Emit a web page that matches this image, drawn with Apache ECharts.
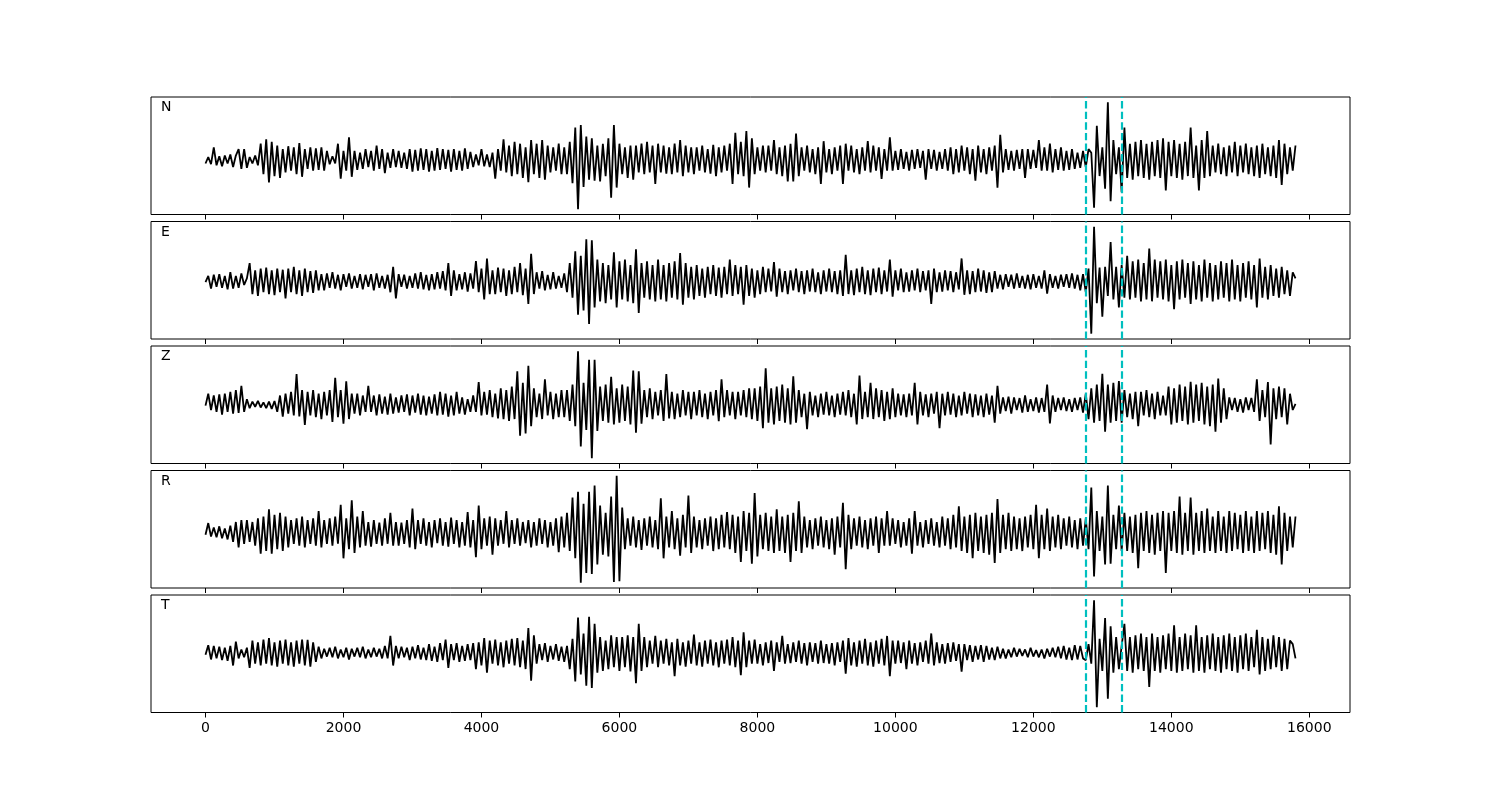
<!DOCTYPE html>
<html>
<head>
<meta charset="utf-8">
<script src="https://cdn.jsdelivr.net/npm/echarts@6/dist/echarts.min.js"></script>
<style>
html,body{margin:0;padding:0;background:#fff;}
#chart{width:1500px;height:800px;}
</style>
</head>
<body>
<div id="chart"></div>
<script>
// ---- data ----
const SAMPLE_STEP = 40;               // time between listed samples
const COMPONENTS = ['N', 'E', 'Z', 'R', 'T'];
const TICK_VALUES = [0, 2000, 4000, 6000, 8000, 10000, 12000, 14000, 16000];
const PICK_TIMES = [12765, 13275];

const N_TRACE = [
-10,8,-12,35,-15,10,-18,12,-10,15,-20,12,30,-25,30,-22,8,-10,12,-15,
45,-40,57,-63,50,-45,40,-50,30,-35,38,-30,35,-40,47,-47,30,-25,35,-30,
32,-28,35,-30,25,-12,10,-10,45,-52,25,-30,63,-47,25,-28,20,-25,30,-20,
25,-30,40,-25,30,-37,20,-22,30,-20,25,-22,20,-25,30,-33,28,-30,32,-28,
30,-33,25,-30,33,-28,30,-25,28,-33,30,-28,25,-30,32,-25,22,-20,15,-15,
30,-18,15,-20,20,-52,30,-30,57,-35,40,-45,50,-40,45,-50,35,-62,55,-40,
45,-50,55,-55,40,-35,35,-30,45,-40,35,-40,50,-65,90,-137,97,-75,65,-55,
60,-58,40,-60,45,-45,60,-105,97,-77,45,-40,35,-50,40,-55,40,-35,45,-40,
50,-35,40,-67,45,-35,40,-38,35,-40,45,-35,55,-45,40,-35,35,-40,35,-30,
40,-35,30,-38,42,-45,35,-35,40,-30,45,-67,75,-40,50,-45,80,-77,60,-40,
35,-30,40,-35,40,-30,55,-40,35,-45,40,-60,45,-60,73,-45,35,-30,40,-35,
30,-40,35,-67,52,-35,30,-40,35,-30,40,-67,45,-30,40,-35,30,-40,35,-30,
52,-35,40,-30,35,-53,30,-30,63,-30,25,-28,30,-25,22,-30,28,-25,30,-22,
25,-55,30,-25,28,-30,22,-25,30,-30,35,-40,30,-35,40,-30,35,-40,30,-58,
40,-35,30,-40,35,-30,40,-77,70,-35,30,-28,25,-30,28,-25,30,-50,30,-25,
28,-22,55,-30,35,-30,45,-35,30,-28,35,-30,25,-28,30,-25,20,-22,25,-20,
30,20,-133,95,-45,35,-80,160,-115,55,-40,35,-90,90,-50,45,-55,50,-45,55,
-50,45,-55,50,-45,55,-50,60,-85,50,-45,55,-50,45,-55,50,-45,90,-50,40,
-85,55,-50,80,-45,40,-35,45,-40,35,-45,40,-35,50,-45,40,-35,45,-40,35,
-45,40,-50,45,-40,35,-45,40,-50,55,-70,45,-40,35,-30,40
];

const E_TRACE = [
-2,15,-20,18,-15,20,-18,15,-22,25,-20,15,-18,22,-10,8,
50,-35,30,-40,35,-30,38,-35,30,-38,35,-30,32,-47,35,-30,40,-35,30,-40,35,-30,28,-32,30,-25,
20,-25,22,-18,25,-20,18,-25,20,-15,22,-20,15,-18,20,-22,18,-15,20,-25,22,-18,15,-20,18,
-30,40,-47,
20,-15,18,-20,15,-18,22,-20,25,-22,18,-25,20,-22,25,-20,28,-25,50,-40,30,-25,20,-22,25,-28,22,-20,
56,-30,35,-50,63,-35,
30,-35,38,-30,35,-40,30,-35,40,-30,50,-38,35,-62,76,-35,
25,-20,28,-25,18,-22,25,-20,15,-18,22,
-30,50,-45,83,-92,70,-80,116,-117,113,-72,60,
-55,50,-60,45,-50,80,-72,55,-50,60,-55,45,-60,88,-87,50,-45,55,-50,45,-55,60,-50,45,-55,50,-45,55,-50,78,-64,50,-45,40,-50,
45,-40,35,-45,40,-35,45,-40,38,-45,40,-35,60,-40,45,-35,40,-64,45,-40,35,-45,
30,-35,40,-30,35,-28,53,-42,35,-30,28,-35,30,-25,35,-30,28,-35,30,-28,35,-30,25,-35,30,-28,35,-30,28,-35,30,-40,
73,-35,30,-38,35,-30,40,-35,30,-38,35,-30,38,-35,30,-28,60,-42,
30,-25,35,-30,25,-28,30,-25,35,-30,28,-25,30,-62,35,-30,25,-28,30,-25,28,-30,25,-22,
63,-37,30,-35,28,-30,35,-28,30,-32,25,-30,28,
-20,18,-22,20,-15,18,-20,22,-18,15,-20,18,-22,20,-18,15,-20,30,-34,20,-18,15,-20,18,-15,20,-18,22,-20,18,-25,20,
-30,35,-144,150,-60,38,-97,40,-40,108,-50,40,-72,45,
-45,70,-50,55,-45,60,-55,50,-50,90,-55,60,-45,55,-50,60,-55,45,-77,55,-50,60,-45,50,-62,55,-50,45,-55,60,-45,50,
-55,45,-50,55,-45,50,-55,60,-50,45,-55,50,-45,55,-50,45,-72,63,-45,40,-50,45,-40,35,-45,40,-35,30,-40,25,8
];

const Z_TRACE = [
-3,30,-15,25,-20,28,-28,30,-20,35,-25,40,-23,52,-20,15,
-10,8,-6,10,-8,6,-10,8,-12,10,
-20,25,-33,30,-25,35,-30,84,-33,40,-56,35,
-30,40,-35,30,-40,35,-30,40,-48,74,-35,40,-53,64,-40,30,-25,
30,-30,25,-20,52,-20,25,-30,28,-25,22,-28,30,-25,20,-22,25,-20,28,-30,25,-22,30,-28,25,-30,22,-25,28,-30,
35,-28,30,-33,25,-30,35,-25,20,-28,15,-20,25,
-20,62,-30,35,-28,40,-35,30,-38,45,-40,
40,-45,50,-40,92,-86,60,-80,107,-60,
45,-35,30,-40,70,-30,35,-40,30,-35,40,-35,
40,-45,55,-60,147,-116,60,-70,124,-148,124,-73,
50,-45,55,-50,77,-55,45,-50,55,-45,50,-55,94,-78,92,-53,40,
-35,45,-40,35,-30,40,-45,84,-38,35,-40,30,-35,40,-30,35,-40,35,
-30,40,-35,30,-40,35,-30,40,-46,70,-35,40,-30,35,-40,35,-30,40,-35,45,-40,45,
-45,50,-65,100,-50,45,-55,50,-45,55,-50,45,-55,78,-50,40,
-35,30,-68,35,-30,25,-35,30,-28,35,-30,25,-35,30,-28,35,-30,40,-35,30,-55,80,
-40,35,-35,60,-40,45,-35,40,-45,35,-40,45,
-35,30,-30,28,-35,30,-30,60,-55,35,-30,28,-35,30,-25,35,-65,30,-30,
35,-28,30,-35,25,-30,35,-25,30,-35,28,-30,25,-35,30,-28,25,-50,52,-25,
20,-18,22,-25,20,-15,18,-22,25,-20,15,-18,20,-22,18,-20,55,-52,25,-20,18,-15,20,-18,15,-20,18,-15,20,-22,
30,-40,45,-50,55,-45,85,-75,55,-50,60,-45,65,-50,
40,-35,30,-40,35,-60,35,-30,40,-35,30,-40,35,-30,25,-30,
50,-55,45,-50,55,-45,50,-55,63,-50,55,-45,60,-55,50,-60,55,-75,72,-50,45,-40,
20,-15,18,-20,15,-22,20,-15,18,-20,
70,-45,40,-35,62,-110,45,-40,50,-35,45,-55,30,-15,2
];

const R_TRACE = [
-5,27,-10,15,-12,18,-15,12,-18,20,
-25,30,-40,35,-30,35,-25,30,-35,
40,-57,45,-50,65,-57,50,-45,55,-50,45,
-40,35,-30,40,-35,45,-40,35,-30,40,-35,60,-40,35,-30,40,-35,45,
-30,77,-70,40,-45,90,-55,45,-40,
60,-35,30,-38,35,-30,28,-35,40,-30,55,-35,
30,-35,28,-30,35,-40,67,-45,35,-30,40,-35,30,-40,35,-28,40,-35,30,-38,42,-30,35,-40,30,-35,
57,-40,35,-67,75,-45,40,-35,45,-60,40,-35,
35,-30,60,-40,35,-30,40,-35,30,-28,35,-40,30,-35,40,-30,35,-40,30,-35,40,-53,
45,-40,55,-50,97,-70,113,-137,80,-110,113,-113,130,-87,75,-60,55,-65,100,-135,157,-133,
70,-45,40,-35,45,-40,35,-47,40,-35,45,-40,35,-45,
95,-70,45,-40,60,-45,40,-63,50,-40,103,-55,45,
-40,35,-45,40,-35,45,-50,40,-45,50,-40,57,-45,50,-55,45,-80,60,-50,55,-85,110,
-65,50,-45,55,-50,45,-55,65,-50,45,-55,50,-80,55,-50,87,-55,
45,-40,35,-45,40,-35,45,-40,35,-45,40,-60,45,-40,83,-100,50,-45,40,-35,45,-40,35,-45,40,-35,45,-55,40,-35,60,
-35,40,-30,35,-40,30,-35,40,-57,60,-35,30,-40,35,-30,40,-35,30,-40,45,-35,
40,-45,50,-40,73,-50,45,-55,50,-70,55,-50,45,-55,50,-60,55,-83,93,-55,50,-45,55,-50,45,
-45,40,-50,45,-40,50,-45,77,-70,50,-45,67,-50,45,-40,50,-45,40,-35,45,-40,35,-45,40,-35,
40,-45,125,-120,60,-50,45,-87,130,-85,50,-45,75,-50,
55,-50,45,-55,50,-97,55,-50,60,-55,50,-60,55,-50,60,-110,55,-50,60,-55,100,-60,55,-50,97,-60,55,-50,60,-55,67,-50,
45,-55,60,-50,45,-55,60,-50,55,-45,50,-55,60,-50,45,-55,60,-50,55,-45,60,-55,50,-60,73,-87,55,-50,45,-40,45
];

const T_TRACE = [
-5,22,-18,20,-15,18,-20,15,-22,20,-35,32,-15,10,-12,15,
-42,35,-30,30,-35,38,-30,42,-35,30,-38,35,-30,38,-35,30,-38,35,-30,38,-35,37,-38,30,-25,
18,-15,12,-10,15,-12,18,-15,10,-12,15,-18,12,-10,15,-12,18,-15,10,-12,15,-10,12,-15,
20,-15,48,-35,
20,-15,18,-12,15,-20,18,-15,22,-18,15,-20,25,-22,18,-25,28,-20,38,-42,25,-20,28,-25,20,-22,25,-20,28,
-45,30,-35,42,-55,35,-30,38,-35,30,-40,35,-30,40,-35,
42,-40,35,-45,70,-78,50,-30,
25,-20,28,-25,20,-18,25,-22,18,-25,20,-45,
40,-80,100,-60,55,-92,102,-98,82,
-55,45,-50,35,-45,50,-40,45,-50,45,-40,50,-52,45,-85,82,-50,45,
-40,35,-30,48,-40,35,-30,40,-35,30,-65,40,-35,30,-38,35,-30,52,-35,30,
-38,35,-30,38,-35,30,-40,35,-30,38,-35,45,-40,35,-62,58,-40,35,-30,38,
-30,25,-35,30,-28,35,-50,30,-25,48,-30,25,-28,30,-25,35,-30,28,-35,30,-25,28,-30,35,-28,25,-30,28,-35,30,-25,35,
-58,42,-35,30,-38,35,-30,40,-35,30,-38,35,-30,40,-35,48,-65,35,
-30,35,-28,30,-45,35,-30,28,-35,30,-25,35,-30,55,-35,30,-28,25,-30,28,-25,30,-22,25,
-52,25,-20,22,-25,20,-18,22,-25,20,-18,15,-20,18,-15,
12,-15,10,-12,15,-10,12,-8,10,-12,15,-10,8,-12,10,-15,12,-10,15,-12,18,-15,20,-18,15,-20,22,-18,20,-15,
-20,25,-30,148,-152,40,-50,98,-128,75,-55,45,-45,20,
82,-50,45,-55,50,-45,55,-50,45,-95,55,-50,45,-55,50,-45,55,-50,78,-55,45,-50,55,-45,50,-55,78,-50,45,-55,50,-45,
55,-50,45,-55,50,-45,55,-50,45,-55,50,-45,55,-50,45,-40,65,-60,45,-50,40,-45,50,-40,45,-50,40,-45,35,25,-15
];

const TRACES = [N_TRACE, E_TRACE, Z_TRACE, R_TRACE, T_TRACE];

// ---- layout ----
const PANEL_TOPS = [97, 221.5, 346, 470.5, 595];
const PANEL_HEIGHT = 117.5;
const X_MIN = -790, X_MAX = 16590;
const FONT = 'DejaVu Sans, Liberation Sans, sans-serif';

const grids = [], xAxes = [], yAxes = [], series = [], titles = [];
TRACES.forEach((tr, k) => {
  grids.push({left: 151, right: 150, top: PANEL_TOPS[k], height: PANEL_HEIGHT,
              show: true, borderColor: '#000', borderWidth: 1, backgroundColor: 'transparent'});
  const last = k === TRACES.length - 1;
  xAxes.push({
    type: 'value', gridIndex: k, min: X_MIN, max: X_MAX, position: 'bottom',
    axisLine: {show: false, onZero: false},
    splitLine: {show: false},
    axisTick: {show: true, customValues: TICK_VALUES, length: 5, inside: false,
               lineStyle: {color: '#000', width: 1}},
    axisLabel: {show: last, customValues: TICK_VALUES, margin: 9, fontSize: 14,
                color: '#000', fontFamily: FONT, formatter: v => String(v)}
  });
  yAxes.push({
    type: 'value', gridIndex: k, show: false, scale: true,
    min: v => v.min - 0.05 * (v.max - v.min),
    max: v => v.max + 0.05 * (v.max - v.min),
    splitLine: {show: false}
  });
  series.push({
    type: 'line', xAxisIndex: k, yAxisIndex: k,
    data: tr.map((v, i) => [i * SAMPLE_STEP, v]),
    showSymbol: false, symbol: 'none', smooth: false, sampling: 'none',
    lineStyle: {color: '#000', width: 1.8},
    animation: false, silent: true,
    markLine: {
      silent: true, symbol: ['none', 'none'], animation: false,
      label: {show: false},
      lineStyle: {color: '#00bfbf', type: [7.4, 3.2], width: 2.2},
      data: PICK_TIMES.map(t => ({xAxis: t}))
    }
  });
  titles.push({text: COMPONENTS[k], left: 161, top: PANEL_TOPS[k] + 3.5, padding: 0,
               textStyle: {fontSize: 14, fontWeight: 'normal', color: '#000', fontFamily: FONT}});
});

const chart = echarts.init(document.getElementById('chart'), null, {renderer: 'canvas'});
chart.setOption({
  backgroundColor: '#fff',
  animation: false,
  title: titles,
  grid: grids,
  xAxis: xAxes,
  yAxis: yAxes,
  series: series
});
</script>
</body>
</html>
